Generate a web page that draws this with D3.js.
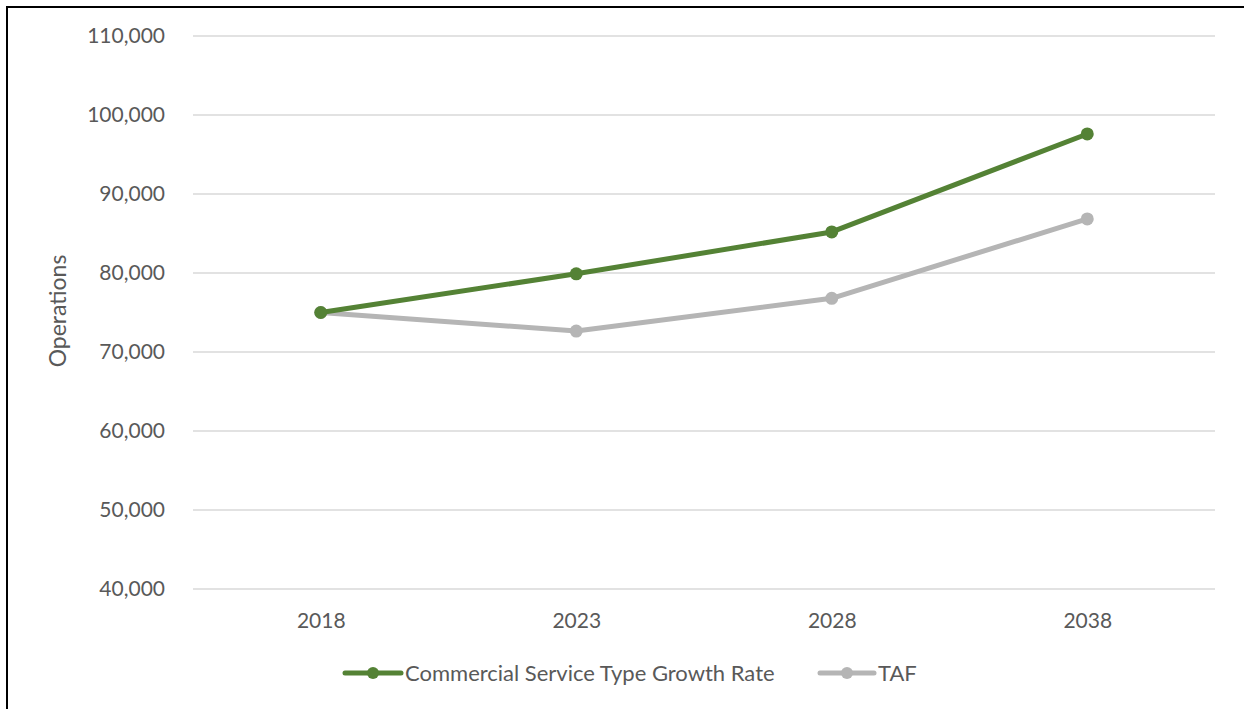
<!DOCTYPE html>
<html>
<head>
<meta charset="utf-8">
<script src="https://cdn.jsdelivr.net/npm/d3@7"></script>
<style>
  html, body { margin: 0; padding: 0; background: #fff; }
  svg { display: block; }
  text { font-family: Lato, "Open Sans", sans-serif; fill: #595959; }
</style>
</head>
<body>
<div id="chart"></div>
<script>
// Operations forecast by scenario
const years = ["2018", "2023", "2028", "2038"];
const commercialGrowth = [75000, 79900, 85200, 97600];
const taf = [75000, 72650, 76800, 86850];
const yTicks = [40000, 50000, 60000, 70000, 80000, 90000, 100000, 110000];
const seriesNames = ["Commercial Service Type Growth Rate", "TAF"];
const seriesColors = ["#548235", "#b5b5b5"];

const W = 1244, H = 709;
const svg = d3.select("#chart").append("svg").attr("width", W).attr("height", H);

// frame
svg.append("path")
  .attr("d", `M7,${H} L7,7 L${W},7`)
  .attr("fill", "none").attr("stroke", "#000").attr("stroke-width", 2);

const x = d3.scalePoint().domain(years).range([193, 1215]).padding(0.5);
const y = d3.scaleLinear().domain([40000, 110000]).range([589, 36]);

// gridlines
svg.append("g").selectAll("line").data(yTicks).join("line")
  .attr("x1", 193).attr("x2", 1215)
  .attr("y1", d => y(d)).attr("y2", d => y(d))
  .attr("stroke", "#d9d9d9").attr("stroke-width", 1.3);

const fmt = d3.format(",");
const yAxis = svg.append("g").attr("transform", "translate(165,0)")
  .call(d3.axisLeft(y).tickValues(yTicks).tickFormat(fmt).tickSize(0).tickPadding(0));
yAxis.select(".domain").remove();
yAxis.selectAll("text").style("font-size", "21px").attr("fill", "#595959")
  .style("font-family", "Lato, 'Open Sans', sans-serif");

const xAxis = svg.append("g").attr("transform", "translate(0,620)")
  .call(d3.axisBottom(x).tickSize(0).tickPadding(0));
xAxis.select(".domain").remove();
xAxis.selectAll("text").attr("y", 0).attr("dy", "0.36em")
  .style("font-size", "21px").attr("fill", "#595959")
  .style("font-family", "Lato, 'Open Sans', sans-serif");

svg.append("text")
  .attr("transform", "translate(66,311) rotate(-90)")
  .attr("text-anchor", "middle")
  .style("font-size", "23px")
  .text("Operations");

const series = [commercialGrowth, taf];
const line = d3.line().x((d, i) => x(years[i])).y(d => y(d));

// draw grey first so the green sits on top
[1, 0].forEach(s => {
  const g = svg.append("g");
  g.append("path").datum(series[s])
    .attr("d", line).attr("fill", "none")
    .attr("stroke", seriesColors[s]).attr("stroke-width", 5)
    .attr("stroke-linejoin", "round");
  g.selectAll("circle").data(series[s]).join("circle")
    .attr("cx", (d, i) => x(years[i])).attr("cy", d => y(d))
    .attr("r", 6.5).attr("fill", seriesColors[s]);
});

// legend
const legendItems = [
  { x0: 345, x1: 401, tx: 405 },
  { x0: 820, x1: 874, tx: 878 }
];
legendItems.forEach((it, i) => {
  const g = svg.append("g");
  g.append("line").attr("x1", it.x0).attr("x2", it.x1).attr("y1", 673).attr("y2", 673)
    .attr("stroke", seriesColors[i]).attr("stroke-width", 5).attr("stroke-linecap", "round");
  g.append("circle").attr("cx", (it.x0 + it.x1) / 2).attr("cy", 673).attr("r", 6)
    .attr("fill", seriesColors[i]);
  g.append("text").attr("x", it.tx).attr("y", 673).attr("dy", "0.35em")
    .style("font-size", "22px").text(seriesNames[i]);
});
</script>
</body>
</html>
